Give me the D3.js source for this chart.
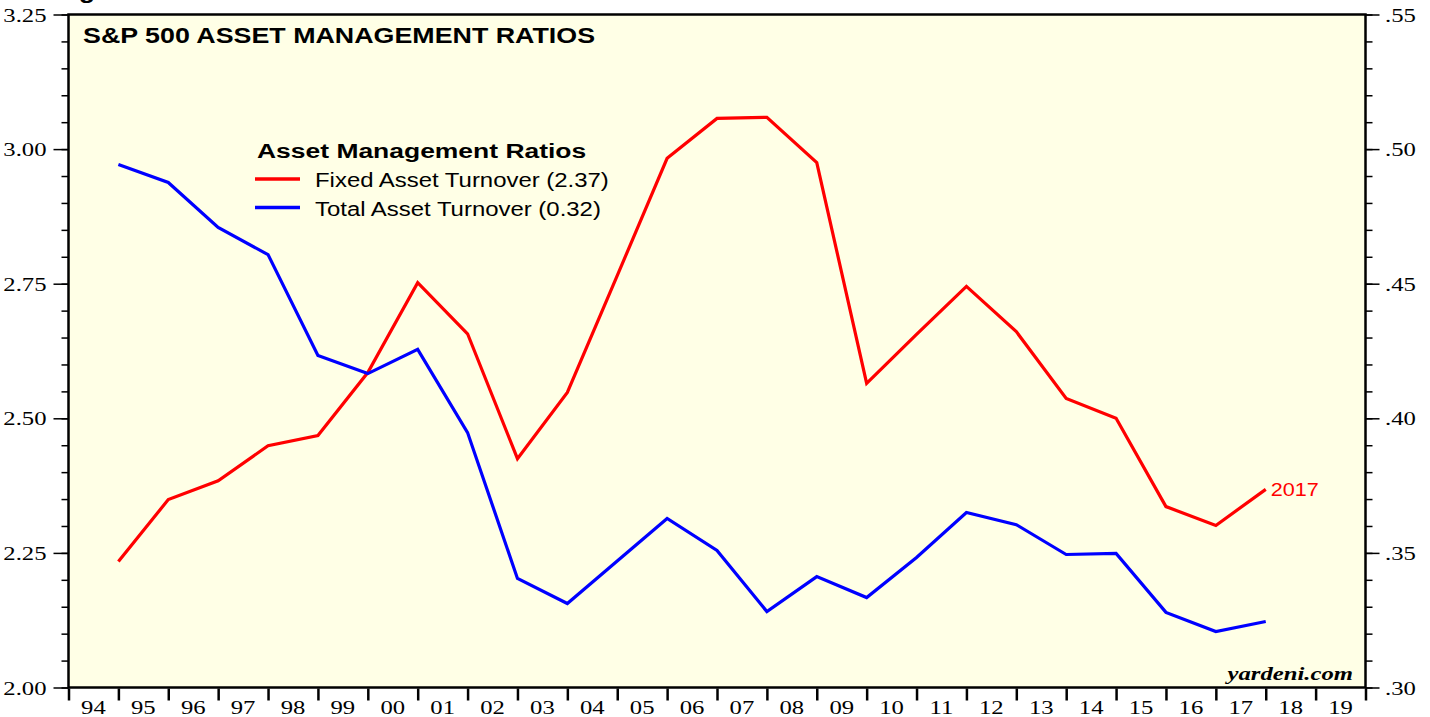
<!DOCTYPE html>
<html>
<head>
<meta charset="utf-8">
<script src="https://cdn.jsdelivr.net/npm/d3@7"></script>
<style>
    body { margin: 0; background: #ffffff; }
    svg { display: block; }
    .tick-label { font-family: "Liberation Serif", "DejaVu Serif", serif; font-size: 19px; fill: #000; }
    .sans { font-family: "Liberation Sans", Arial, sans-serif; }
</style>
</head>
<body>
<svg id="chart"></svg>
<script>
// data (yearly, plotted at year end)
var years = [1994, 1995, 1996, 1997, 1998, 1999, 2000, 2001, 2002, 2003, 2004, 2005,
             2006, 2007, 2008, 2009, 2010, 2011, 2012, 2013, 2014, 2015, 2016, 2017];
var fixedAssetTurnover = [2.234, 2.349, 2.384, 2.449, 2.468, 2.585, 2.752, 2.657, 2.425, 2.548, 2.765, 2.983,
                          3.057, 3.059, 2.975, 2.565, 2.656, 2.745, 2.661, 2.537, 2.500, 2.336, 2.301, 2.368];
var totalAssetTurnover = [0.4943, 0.4876, 0.4709, 0.4608, 0.4233, 0.4166, 0.4256, 0.3947, 0.3405, 0.3312, 0.3470, 0.3628,
                          0.3509, 0.3282, 0.3412, 0.3334, 0.3483, 0.3650, 0.3605, 0.3494, 0.3498, 0.3279, 0.3208, 0.3245];
var leftTicks = [2.00, 2.25, 2.50, 2.75, 3.00, 3.25];
var rightTicks = [0.30, 0.35, 0.40, 0.45, 0.50, 0.55];
var yearLabels = ["94","95","96","97","98","99","00","01","02","03","04","05","06",
                  "07","08","09","10","11","12","13","14","15","16","17","18","19"];

var W = 1430, H = 717;
var plotLeft = 68.5, plotRight = 1365.5, plotTop = 14.5, plotBottom = 687.5;
var serifStretch = 1.3;   // reference type is set wider than Liberation

var svg = d3.select("#chart").attr("width", W).attr("height", H);

// place a text at x,y stretched horizontally by sx
function wideText(x, y, sx, str) {
    return svg.append("text")
        .attr("transform", "translate(" + x + "," + y + ") scale(" + sx + ",1)")
        .text(str);
}

// scales
var xScale = d3.scaleLinear().domain([1994, 2020]).range([plotLeft, plotRight]);
var yLeft = d3.scaleLinear().domain([2.00, 3.25]).range([plotBottom, plotTop]);
var yRight = d3.scaleLinear().domain([0.30, 0.55]).range([plotBottom, plotTop]);

// cut-off header text at very top
wideText(55, -2, 1.22, "Figure")
    .attr("class", "sans")
    .style("font-weight", "bold")
    .style("font-size", "22px");

// plot background
svg.append("rect")
    .attr("x", plotLeft).attr("y", plotTop)
    .attr("width", plotRight - plotLeft).attr("height", plotBottom - plotTop)
    .attr("fill", "#ffffe6");

// left axis: minor ticks every 0.05, labelled ticks every 0.25
var leftAxis = svg.append("g")
    .attr("transform", "translate(" + plotLeft + ",0)")
    .call(d3.axisLeft(yLeft).tickValues(d3.range(2.00, 3.2501, 0.05)).tickSize(7).tickFormat(""));
leftAxis.selectAll(".tick line").attr("stroke-width", 1.5);
leftAxis.select(".domain").remove();

var leftMajor = svg.append("g")
    .attr("transform", "translate(" + plotLeft + ",0)")
    .call(d3.axisLeft(yLeft).tickValues(leftTicks).tickSize(15).tickFormat(d3.format(".2f")));
leftMajor.select(".domain").remove();
leftMajor.selectAll(".tick line").attr("stroke-width", 1.5);
leftMajor.selectAll(".tick text")
    .attr("class", "tick-label")
    .attr("x", -22 / serifStretch)
    .attr("dy", "0.35em")
    .attr("transform", "scale(" + serifStretch + ",1)");

// right axis
var rightAxis = svg.append("g")
    .attr("transform", "translate(" + plotRight + ",0)")
    .call(d3.axisRight(yRight).tickValues(d3.range(0.30, 0.5501, 0.01)).tickSize(7).tickFormat(""));
rightAxis.selectAll(".tick line").attr("stroke-width", 1.5);
rightAxis.select(".domain").remove();

var rightMajor = svg.append("g")
    .attr("transform", "translate(" + plotRight + ",0)")
    .call(d3.axisRight(yRight).tickValues(rightTicks).tickSize(14)
        .tickFormat(function(d) { return d3.format(".2f")(d).replace(/^0/, ""); }));
rightMajor.select(".domain").remove();
rightMajor.selectAll(".tick line").attr("stroke-width", 1.5);
rightMajor.selectAll(".tick text")
    .attr("class", "tick-label")
    .attr("x", 19.5 / serifStretch)
    .attr("dy", "0.35em")
    .attr("transform", "scale(" + serifStretch + ",1)");

// bottom axis: ticks at year boundaries, labels centered inside each year
var bottomAxis = svg.append("g")
    .attr("transform", "translate(0," + (plotBottom + 1) + ")")
    .call(d3.axisBottom(xScale).tickValues(d3.range(1994, 2021)).tickSize(12).tickFormat(""));
bottomAxis.select(".domain").remove();
bottomAxis.selectAll(".tick line").attr("stroke-width", 2.5);

svg.append("g")
    .selectAll("text")
    .data(yearLabels)
    .enter().append("text")
    .attr("class", "tick-label")
    .attr("transform", function(d, i) {
        return "translate(" + xScale(1994 + i + 0.5) + ",714) scale(" + serifStretch + ",1)";
    })
    .attr("text-anchor", "middle")
    .text(function(d) { return d; });

// lines
var fixedLine = d3.line()
    .x(function(d, i) { return xScale(years[i] + 1); })
    .y(function(d) { return yLeft(d); });
var totalLine = d3.line()
    .x(function(d, i) { return xScale(years[i] + 1); })
    .y(function(d) { return yRight(d); });

svg.append("path")
    .datum(fixedAssetTurnover)
    .attr("fill", "none")
    .attr("stroke", "#ff0000")
    .attr("stroke-width", 3.2)
    .attr("d", fixedLine);

svg.append("path")
    .datum(totalAssetTurnover)
    .attr("fill", "none")
    .attr("stroke", "#0000ff")
    .attr("stroke-width", 3.2)
    .attr("d", totalLine);

// last-point label
var lastIdx = years.length - 1;
wideText(xScale(years[lastIdx] + 1) + 5, yLeft(fixedAssetTurnover[lastIdx]) + 7, 1.14, String(years[lastIdx]))
    .attr("class", "sans")
    .style("font-size", "19px")
    .attr("fill", "#ff0000");

// plot frame
svg.append("rect")
    .attr("x", plotLeft).attr("y", plotTop)
    .attr("width", plotRight - plotLeft).attr("height", plotBottom - plotTop)
    .attr("fill", "none")
    .attr("stroke", "#000")
    .attr("stroke-width", 2.5);

// title
wideText(83, 43, 1.22, "S&P 500 ASSET MANAGEMENT RATIOS")
    .attr("class", "sans")
    .style("font-weight", "bold")
    .style("font-size", "22px");

// legend
wideText(257, 158, 1.26, "Asset Management Ratios")
    .attr("class", "sans")
    .style("font-weight", "bold")
    .style("font-size", "21px");

var legendItems = [
    { label: "Fixed Asset Turnover (" + d3.format(".2f")(fixedAssetTurnover[lastIdx]) + ")", color: "#ff0000" },
    { label: "Total Asset Turnover (" + d3.format(".2f")(totalAssetTurnover[lastIdx]) + ")", color: "#0000ff" }
];
legendItems.forEach(function(item, i) {
    var ly = 179 + i * 28.5;
    svg.append("line")
        .attr("x1", 255).attr("x2", 300)
        .attr("y1", ly).attr("y2", ly)
        .attr("stroke", item.color)
        .attr("stroke-width", 3.5);
    wideText(315, ly + 8, 1.14, item.label)
        .attr("class", "sans")
        .style("font-size", "21px");
});

// source
wideText(1353, 680, serifStretch, "yardeni.com")
    .attr("text-anchor", "end")
    .style("font-family", "Liberation Serif, serif")
    .style("font-weight", "bold")
    .style("font-style", "italic")
    .style("font-size", "19px");
</script>
</body>
</html>
